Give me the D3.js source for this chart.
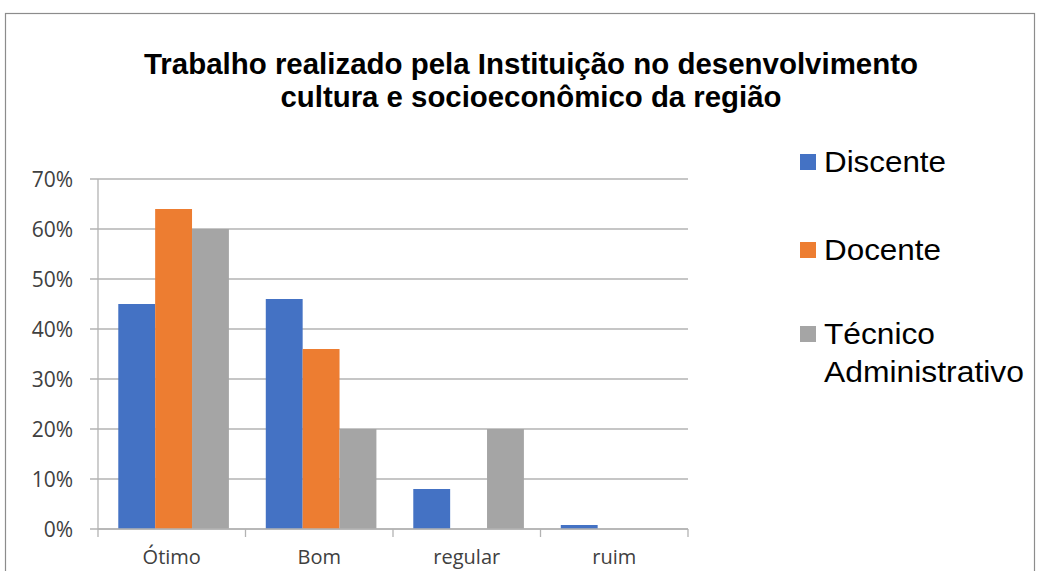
<!DOCTYPE html>
<html>
<head>
<meta charset="utf-8">
<script src="https://cdn.jsdelivr.net/npm/d3@7"></script>
<style>
  html, body { margin: 0; padding: 0; background: #fff; }
  svg { display: block; }
</style>
</head>
<body>
<svg id="chart" width="1038" height="571"></svg>
<script>
const categories = ["Ótimo", "Bom", "regular", "ruim"];
const seriesNames = ["Discente", "Docente", "Técnico Administrativo"];
const discente = [45, 46, 8, 0.8];
const docente = [64, 36, 0, 0];
const tecnico = [60, 20, 20, 0];
const yTicks = [0, 10, 20, 30, 40, 50, 60, 70];
const titleLines = ["Trabalho realizado pela Instituição no desenvolvimento", "cultura e socioeconômico da região"];
const colors = ["#4472C4", "#ED7D31", "#A5A5A5"];

const series = [discente, docente, tecnico];
const svg = d3.select("#chart");

// outer border
svg.append("rect")
  .attr("x", 5.5).attr("y", 13.5)
  .attr("width", 1029).attr("height", 600)
  .attr("fill", "none").attr("stroke", "#8c8c8c").attr("stroke-width", 1.2);

// title
const titleWidths = [774, 501];
titleLines.forEach((t, i) => {
  svg.append("text")
    .attr("x", 531).attr("y", 74 + i * 33)
    .attr("text-anchor", "middle")
    .attr("font-family", "'Liberation Sans', Arial, sans-serif")
    .attr("font-weight", "bold")
    .attr("font-size", 30)
    .attr("fill", "#000")
    .attr("textLength", titleWidths[i])
    .attr("lengthAdjust", "spacingAndGlyphs")
    .text(t);
});

const x0 = 98, x1 = 688, yTop = 179, yBot = 529;
const x = d3.scaleBand().domain(categories).range([x0, x1]).paddingInner(0).paddingOuter(0);
const y = d3.scaleLinear().domain([0, 70]).range([yBot, yTop]);

// gridlines
svg.append("g").selectAll("line").data(yTicks).join("line")
  .attr("x1", 90).attr("x2", x1)
  .attr("y1", d => y(d)).attr("y2", d => y(d))
  .attr("stroke", "#b3b3b3").attr("stroke-width", 1.3);

// y axis line
svg.append("line")
  .attr("x1", x0).attr("x2", x0).attr("y1", yTop).attr("y2", yBot)
  .attr("stroke", "#b3b3b3").attr("stroke-width", 1.3);

// y tick labels
svg.append("g").selectAll("text").data(yTicks).join("text")
  .attr("x", 73).attr("y", d => y(d) + 8)
  .attr("text-anchor", "end")
  .attr("font-family", "'Open Sans', sans-serif")
  .attr("font-size", 21)
  .attr("fill", "#404040")
  .text(d => d + "%");

// bars
const barW = x.step() / 4;
series.forEach((vals, si) => {
  svg.append("g").selectAll("rect").data(vals).join("rect")
    .attr("x", (d, i) => x(categories[i]) + barW * 0.55 + si * barW)
    .attr("y", d => y(d))
    .attr("width", barW)
    .attr("height", d => yBot - y(d))
    .attr("fill", colors[si]);
});

// x axis line
svg.append("line")
  .attr("x1", x0).attr("x2", x1).attr("y1", yBot).attr("y2", yBot)
  .attr("stroke", "#b3b3b3").attr("stroke-width", 1.3);

// x ticks at category boundaries
const bounds = categories.map(c => x(c)).concat([x1]);
svg.append("g").selectAll("line").data(bounds).join("line")
  .attr("x1", d => d).attr("x2", d => d)
  .attr("y1", yBot).attr("y2", yBot + 8)
  .attr("stroke", "#b3b3b3").attr("stroke-width", 1.3);

// x labels
svg.append("g").selectAll("text").data(categories).join("text")
  .attr("x", d => x(d) + x.bandwidth() / 2)
  .attr("y", 564)
  .attr("text-anchor", "middle")
  .attr("font-family", "'Open Sans', sans-serif")
  .attr("font-size", 20)
  .attr("fill", "#404040")
  .text(d => d);

// legend
const legendItems = [
  { lines: ["Discente"], y: 172, w: [122] },
  { lines: ["Docente"], y: 260, w: [117] },
  { lines: ["Técnico", "Administrativo"], y: 344, w: [111, 200] }
];
legendItems.forEach((it, i) => {
  svg.append("rect")
    .attr("x", 800).attr("y", it.y - 18)
    .attr("width", 16).attr("height", 16)
    .attr("fill", colors[i]);
  it.lines.forEach((ln, j) => {
    svg.append("text")
      .attr("x", 824).attr("y", it.y + j * 38)
      .attr("font-family", "'Liberation Sans', Arial, sans-serif")
      .attr("font-size", 29)
      .attr("fill", "#000")
      .attr("textLength", it.w[j])
      .attr("lengthAdjust", "spacingAndGlyphs")
      .text(ln);
  });
});
</script>
</body>
</html>
